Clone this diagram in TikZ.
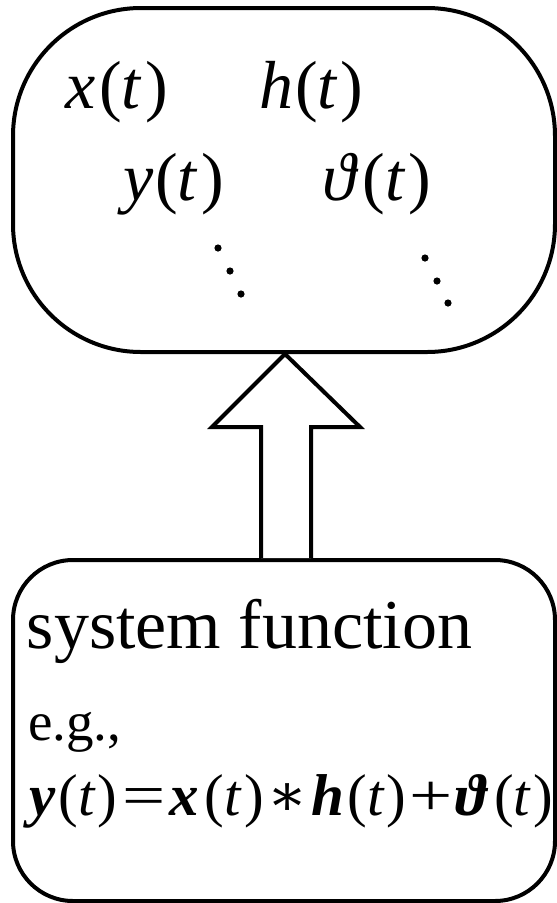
\documentclass[tikz,border=0pt]{standalone}
\usepackage{fontspec}
\setmainfont{Liberation Serif}
\newfontfamily\dvs{DejaVu Serif}
\usetikzlibrary{calc}
\tikzset{
  box/.style={draw=black, line width=4pt, rectangle, inner sep=0pt},
  lbl/.style={anchor=base west, inner sep=0pt, outer sep=0pt},
  blockarrow/.style={draw=black, line width=4pt, fill=white, line join=miter},
  dotm/.style={fill=black}
}
\newcommand{\vi}[1]{\textit{#1}}
\newcommand{\vb}[1]{\textbf{\textit{#1}}}
\newcommand{\vth}{\textit{ϑ}}
\newcommand{\bvth}{\textbf{\textit{ϑ}}}
\newcommand{\wop}[1]{\scalebox{1.3}[1]{#1}}
\begin{document}
\begin{tikzpicture}[x=1pt,y=-1pt]
\useasboundingbox (0,0) rectangle (557,903);
% boxes
\node[box, rounded corners=128pt, minimum width=542pt, minimum height=344pt] (top) at (284,180) {};
\node[box, rounded corners=60pt, minimum width=542pt, minimum height=341pt] (bot) at (284,730.5) {};
% block arrow
\coordinate (tip) at ($(top.south)+(1,0)$);
\draw[blockarrow] ($(bot.north)+(-23,0)$) -- ($(bot.north)+(-23,-131)$) -- ($(bot.north)+(-72,-131)$)
  -- (tip) -- ($(bot.north)+(76,-131)$) -- ($(bot.north)+(27,-131)$) -- ($(bot.north)+(27,0)$);
% top texts
\begin{scope}[every node/.style={lbl, font=\fontsize{68}{80}\selectfont}]
\node (xt) at (65,108) {\vi{x}\kern4pt(\vi{t}\kern3pt)};
\node (ht) at (259,108) {\vi{h}\kern2pt(\vi{t}\kern3pt)};
\node (yt) at (123,200) {\vi{y}\kern2pt(\vi{t}\kern3pt)};
\node (vt) at (322,200) {\vth\kern4pt(\vi{t}\kern3pt)};
\end{scope}
% dots
\foreach \p in {(218,248),(230,271),(241,294),(425,258),(437,281),(448,303)}
  \fill[dotm] \p circle (3.6pt);
% bottom texts
\node[lbl, font=\fontsize{70}{80}\selectfont] (sf) at (27,648) {system function};
\node[lbl, font=\fontsize{55}{64}\selectfont] (eg) at (28,740) {e.g.,};
\node[lbl, font=\fontsize{59}{70}\selectfont] (eq) at (30,815)
  {\vb{y}\kern2pt(\vi{t}\kern2pt)\kern5pt\wop{=}\kern4pt\vb{x}\kern6pt(\vi{t}\kern2pt)\kern4pt{\dvs ∗}\kern4pt\vb{h}\kern3pt(\vi{t}\kern2pt)\kern3pt\wop{+}\kern3pt\bvth\kern5pt(\vi{t}\kern2pt)};
\end{tikzpicture}
\end{document}
